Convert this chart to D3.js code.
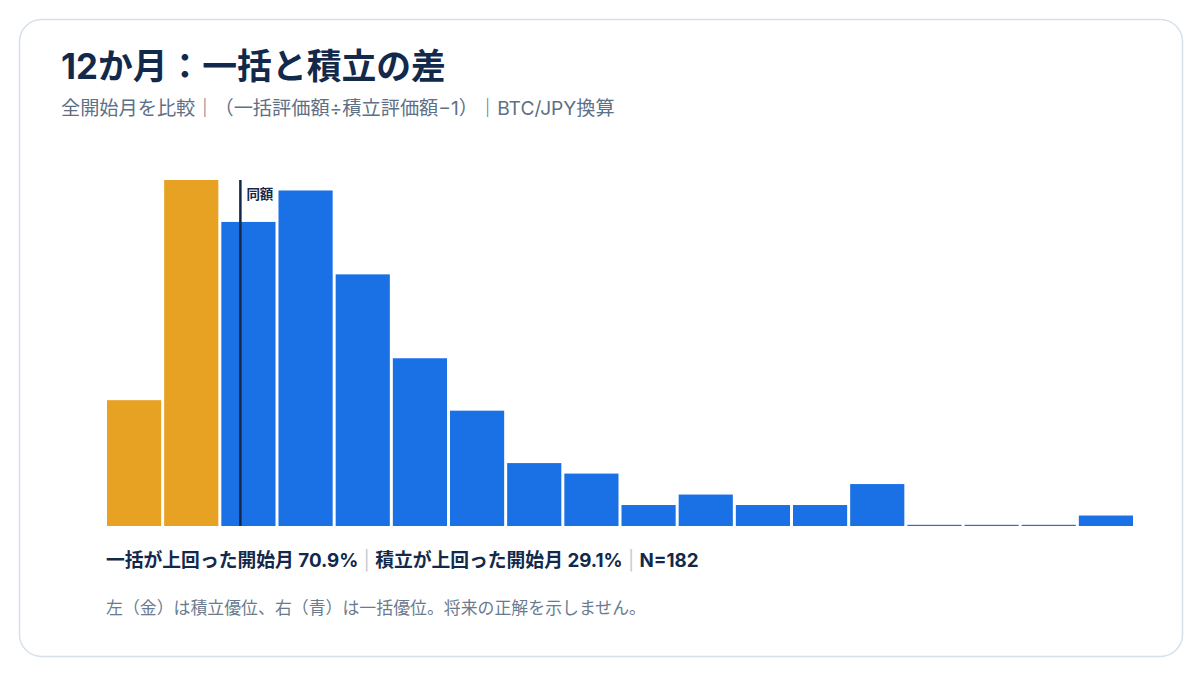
<!DOCTYPE html>
<html>
  <head>
    <meta charset="utf-8">
    <style>
      body { margin: 0; background: #fff; }
      svg { display: block; }
      text { font-family: "Inter", "Noto Sans CJK JP", sans-serif; }
    </style>
  </head>
  <body>
    <svg></svg>
    <script src="https://d3js.org/d3.v7.min.js"></script>
    <script>
      // counts per bin of (lump-sum value / DCA value - 1)
      var binEdges = d3.range(19).map(i => -0.35 + i * 0.15);
      var counts = [12, 33, 29, 32, 24, 16, 11, 6, 5, 2, 3, 2, 2, 4, 0, 0, 0, 1];
      var dcaBins = [0, 1]; // bins where DCA wins (gold)

      var title = "12か月：一括と積立の差";
      var subtitle = "全開始月を比較｜（一括評価額÷積立評価額−1）｜BTC/JPY換算";
      var summary = [
        { text: "一括が上回った開始月 70.9%" },
        { text: "積立が上回った開始月 29.1%" },
        { text: "N=182" }
      ];
      var footnote = "左（金）は積立優位、右（青）は一括優位。将来の正解を示しません。";

      var W = 1200, H = 675;
      var svg = d3.select("svg").attr("width", W).attr("height", H);

      svg.append("rect")
        .attr("x", 19.5).attr("y", 19.5)
        .attr("width", 1163).attr("height", 637)
        .attr("rx", 22)
        .attr("fill", "#fff")
        .attr("stroke", "#d6e0ea")
        .attr("stroke-width", 1.5);

      svg.append("text")
        .attr("x", 61).attr("y", 79)
        .attr("font-size", 34.8).attr("font-weight", 700)
        .attr("fill", "#13294b")
        .text(title);

      svg.append("text")
        .attr("x", 61).attr("y", 115)
        .attr("font-size", 19.2)
        .attr("fill", "#5e7087")
        .text(subtitle);

      var x = d3.scaleLinear()
        .domain([binEdges[0], binEdges[binEdges.length - 1]])
        .range([107, 1136]);

      var y = d3.scaleLinear()
        .domain([0, d3.max(counts)])
        .range([526, 180]);

      var bars = counts.map((c, i) => ({ i: i, count: c, x0: binEdges[i], x1: binEdges[i + 1] }));

      svg.append("g").selectAll("rect")
        .data(bars)
        .join("rect")
        .attr("x", d => x(d.x0))
        .attr("width", d => x(d.x1) - x(d.x0) - 3)
        .attr("y", d => Math.min(y(d.count), y(0) - 1.2))
        .attr("height", d => Math.max(y(0) - y(d.count), 1.2))
        .attr("fill", d => dcaBins.includes(d.i) ? "#e8a223" : "#1a71e6");

      // zero line (同額)
      svg.append("line")
        .attr("x1", x(0)).attr("x2", x(0))
        .attr("y1", y.range()[1]).attr("y2", y(0))
        .attr("stroke", "#10284a")
        .attr("stroke-width", 2.5);

      svg.append("text")
        .attr("x", x(0) + 6).attr("y", 199)
        .attr("font-size", 13.5).attr("font-weight", 700)
        .attr("fill", "#13294b")
        .text("同額");

      var s = svg.append("text")
        .attr("x", 106).attr("y", 567)
        .attr("font-size", 18.8).attr("font-weight", 700)
        .attr("fill", "#13294b");
      summary.forEach((d, i) => {
        if (i > 0) {
          s.append("tspan").attr("fill", "#c3ccd6").attr("font-weight", 400).text(" | ");
        }
        s.append("tspan").text(d.text);
      });

      svg.append("text")
        .attr("x", 106).attr("y", 614)
        .attr("font-size", 16.9)
        .attr("fill", "#6b7b8f")
        .text(footnote);
    </script>
  </body>
</html>
